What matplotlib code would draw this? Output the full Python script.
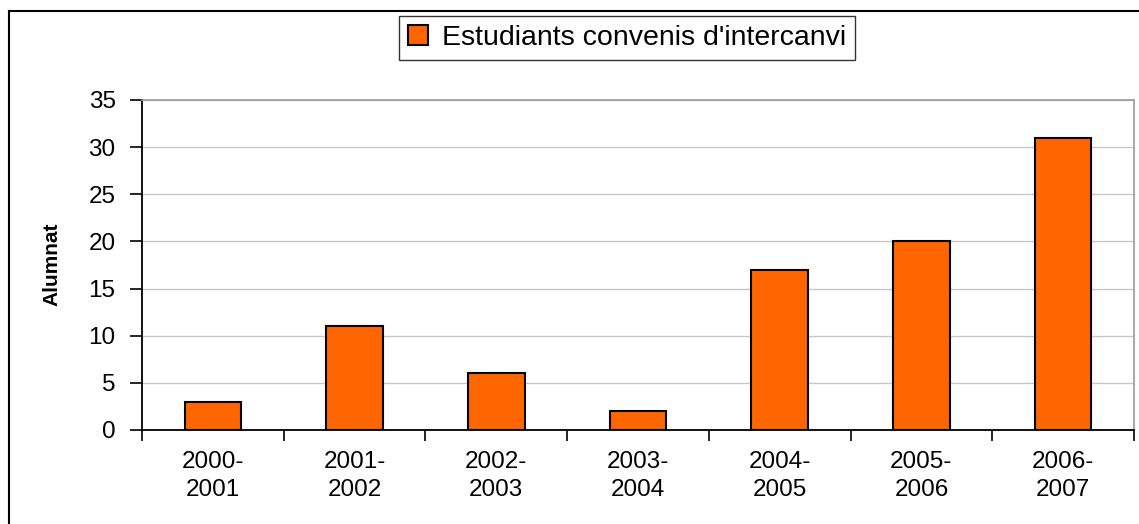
import matplotlib
matplotlib.use("Agg")
import matplotlib.pyplot as plt
from matplotlib.lines import Line2D
import numpy as np

plt.rcParams['font.family'] = ['Liberation Sans', 'DejaVu Sans']

categories = ["2000-\n2001", "2001-\n2002", "2002-\n2003", "2003-\n2004",
              "2004-\n2005", "2005-\n2006", "2006-\n2007"]
values = [3, 11, 6, 2, 17, 20, 31]
series_name = "Estudiants convenis d'intercanvi"
y_label = "Alumnat"
y_ticks = [0, 5, 10, 15, 20, 25, 30, 35]

W, H = 1139, 524
fig = plt.figure(figsize=(W / 100, H / 100), dpi=100)
ax = fig.add_axes([142 / W, 1 - 430 / H, (1134 - 142) / W, (430 - 100) / H])

x = np.arange(len(categories))
ax.bar(x, values, width=0.40, color="#FF6600", edgecolor="black",
       linewidth=1.5, label=series_name, zorder=3)

ax.set_xlim(-0.5, len(categories) - 0.5)
ax.set_ylim(0, 35)
ax.set_yticks(y_ticks)
ax.set_yticklabels([str(t) for t in y_ticks], fontsize=17.5)
ax.yaxis.grid(True, color="#c8c8c8", linewidth=1.0, zorder=0)
ax.tick_params(axis='y', direction='out', length=9, width=1.2, pad=10)

ax.set_xticks(x)
ax.set_xticklabels(categories, fontsize=17.5, linespacing=1.35)
ax.set_xticks(np.arange(-0.5, len(categories), 1.0), minor=True)
ax.tick_params(axis='x', which='major', length=0, pad=15)
ax.tick_params(axis='x', which='minor', direction='out', length=8, width=1.2)

for s in ['left', 'bottom']:
    ax.spines[s].set_color('black')
    ax.spines[s].set_linewidth(1.3)
for s in ['top', 'right']:
    ax.spines[s].set_color('#999999')
    ax.spines[s].set_linewidth(1.2)

fig.text(52 / W, 1 - 264 / H, y_label, rotation=90, fontsize=15,
         fontweight='bold', ha='center', va='center')

leg = fig.legend(loc='center', bbox_to_anchor=(627 / W, 1 - 38 / H),
                 fontsize=20.5, frameon=True, fancybox=False,
                 handlelength=0.7, handleheight=0.7, handletextpad=0.5,
                 borderpad=0.3, borderaxespad=0)
leg.get_frame().set_edgecolor('black')
leg.get_frame().set_linewidth(1.0)

# outer chart border (left and top edges visible)
fig.add_artist(Line2D([9 / W, 9 / W], [0, 1 - 11 / H], transform=fig.transFigure,
                      color='black', linewidth=1.5))
fig.add_artist(Line2D([9 / W, 1], [1 - 11 / H, 1 - 11 / H], transform=fig.transFigure,
                      color='black', linewidth=1.5))

fig.savefig("out.png", dpi=100)
